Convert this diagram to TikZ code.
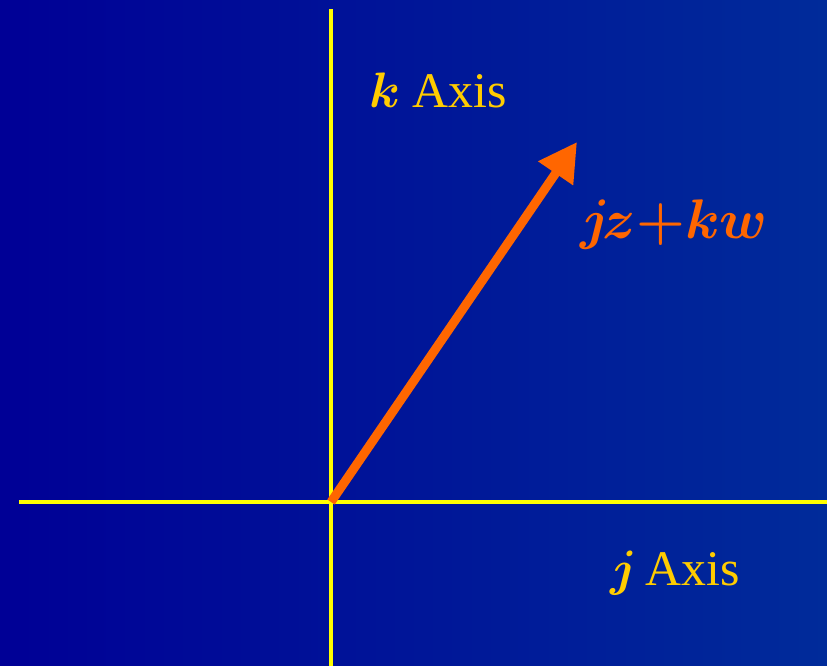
\RequirePackage{fix-cm}
\documentclass[tikz,border=0pt]{standalone}
\usepackage{amsmath,amssymb}
\usepackage{fontspec}
\setmainfont{Liberation Serif}
\usepackage{tikz}
\usetikzlibrary{arrows.meta,positioning}
\definecolor{BgLeft}{HTML}{000096}
\definecolor{BgRight}{HTML}{002B9A}
\definecolor{AxisYellow}{HTML}{FFFF00}
\definecolor{LabelGold}{HTML}{FFCC00}
\definecolor{VecOrange}{HTML}{FF6600}
\begin{document}
\begin{tikzpicture}[x=1bp, y=1bp,
  axisline/.style={draw=AxisYellow, line width=4bp},
  axislabel/.style={text=LabelGold, font=\fontsize{50}{54}\selectfont, inner sep=0pt},
  veclabel/.style={text=VecOrange, font=\fontsize{56}{60}\selectfont\boldmath, inner sep=0pt}]
\shade[left color=BgLeft, right color=BgRight] (0,0) rectangle (827,666);
\useasboundingbox (0,0) rectangle (827,666);
\coordinate (origin) at (331,164);
\coordinate (ktop) at (331,657);
\coordinate (kbottom) at (331,0);
\coordinate (jleft) at (19,164);
\coordinate (jright) at (827,164);
\coordinate (tip) at (577,524);
\draw[axisline] (kbottom)--(ktop);
\draw[axisline] (jleft)--(jright);
\draw[draw=VecOrange, line width=9bp, -{Triangle[length=38bp, width=40bp]}] (origin)--(tip);
\node[axislabel, anchor=base] (klabel) at (438,558) {$\boldsymbol{k}$ Axis};
\node[axislabel, anchor=base] (jlabel) at (675,80) {$\boldsymbol{j}$\,Axis};
\node[veclabel, anchor=base] (vlabel) at (674,427) {$j\mkern-2mu z{+}kw$};
\end{tikzpicture}
\end{document}
